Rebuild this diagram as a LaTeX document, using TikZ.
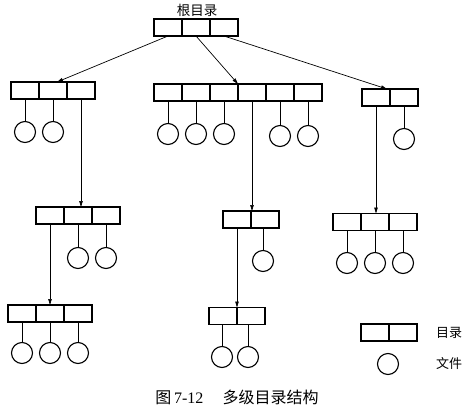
\documentclass[tikz,border=0pt]{standalone}
\usepackage{fontspec}
\setmainfont{Liberation Serif}
\newfontfamily\cjk{Noto Sans CJK SC}
\usetikzlibrary{arrows.meta}
\begin{document}
\begin{tikzpicture}[x=1pt,y=-1pt,
  cell/.style={draw, line width=1.1pt, minimum width=28pt, minimum height=17pt, inner sep=0pt, outer sep=0pt},
  file/.style={draw, circle, line width=1.1pt, minimum size=21pt, inner sep=0pt, outer sep=0pt},
  link/.style={line width=0.7pt},
  ptr/.style={line width=0.7pt, -{Triangle[length=6pt,width=3.5pt]}},
  lbl/.style={font=\cjk\fontsize{13.5}{15}\selectfont, inner sep=0pt}]
\useasboundingbox (0,0) rectangle (467,408);
% directory boxes
\foreach \i in {1,2,3} \node[cell] (r\i) at ({154+28*\i-14},27.5) {};
\foreach \i in {1,2,3} \node[cell] (a\i) at ({11+28*\i-14},90.5) {};
\foreach \i in {1,...,6} \node[cell] (b\i) at ({154+28*\i-14},92.5) {};
\foreach \i in {1,2} \node[cell] (c\i) at ({362+28*\i-14},97.5) {};
\foreach \i in {1,2,3} \node[cell] (d\i) at ({36+28*\i-14},215.5) {};
\foreach \i in {1,2,3} \node[cell] (e\i) at ({8+28*\i-14},313.5) {};
\foreach \i in {1,2} \node[cell] (f\i) at ({223+28*\i-14},219.5) {};
\foreach \i in {1,2} \node[cell] (g\i) at ({209+28*\i-14},316) {};
\foreach \i in {1,2,3} \node[cell] (h\i) at ({333+28*\i-14},222) {};
\foreach \i in {1,2} \node[cell] (k\i) at ({361+28*\i-14},332.5) {};
% root label
\node[lbl] (root) at (197,10) {根目录};
% files
\node[file] (fa1) at (a1 |- 0,132) {};
\node[file] (fa2) at (a2 |- 0,132) {};
\node[file] (fb1) at (b1 |- 0,134) {};
\node[file] (fb2) at (b2 |- 0,134) {};
\node[file] (fb3) at (b3 |- 0,134) {};
\node[file] (fb5) at (b5 |- 0,136) {};
\node[file] (fb6) at (b6 |- 0,136) {};
\node[file] (fc2) at (c2 |- 0,139) {};
\node[file] (fd2) at (d2 |- 0,258) {};
\node[file] (fd3) at (d3 |- 0,258) {};
\node[file] (ff2) at (263,261) {};
\node[file] (fh1) at (h1 |- 0,263) {};
\node[file] (fh2) at (h2 |- 0,263) {};
\node[file] (fh3) at (h3 |- 0,263) {};
\node[file] (fe1) at (e1 |- 0,353) {};
\node[file] (fe2) at (e2 |- 0,353) {};
\node[file] (fe3) at (e3 |- 0,353) {};
\node[file] (fg1) at (222,357) {};
\node[file] (fg2) at (248,357) {};
\node[file] (fk) at (388,364) {};
% links to files
\foreach \f/\c in {fa1/a1,fa2/a2,fb1/b1,fb2/b2,fb3/b3,fb5/b5,fb6/b6,fc2/c2,fd2/d2,fd3/d3,ff2/f2,fh1/h1,fh2/h2,fh3/h3,fe1/e1,fe2/e2,fe3/e3,fg1/g1,fg2/g2}
  \draw[link] (\f.north) -- (\f.north |- \c.south);
% pointers
\draw[ptr] (r1.south) -- ([xshift=4pt]a2.north);
\draw[ptr] (r2.south) -- (b3.north east);
\draw[ptr] (r3.south) -- ([xshift=-3pt]c1.north east);
\draw[ptr] (a3.south) -- (a3.south |- d2.north);
\draw[ptr] (d1.south) -- (d1.south |- e2.north);
\draw[ptr] (b4.south) -- (b4.south |- f1.north);
\draw[ptr] (f1.south) -- (f1.south |- g1.north);
\draw[ptr] (c1.south) -- (c1.south |- h2.north);
% legend
\node[lbl, font=\cjk\fontsize{13}{15}\selectfont] (lk) at (449,333) {目录};
\node[lbl, font=\cjk\fontsize{13}{15}\selectfont] (lf) at (449,364) {文件};
% caption
\node[inner sep=0pt, font=\fontsize{16}{18}\selectfont] (cap) at (237,397) {{\cjk 图}\,7-12\hspace{1.2em}{\cjk 多级目录结构}};
\end{tikzpicture}
\end{document}
